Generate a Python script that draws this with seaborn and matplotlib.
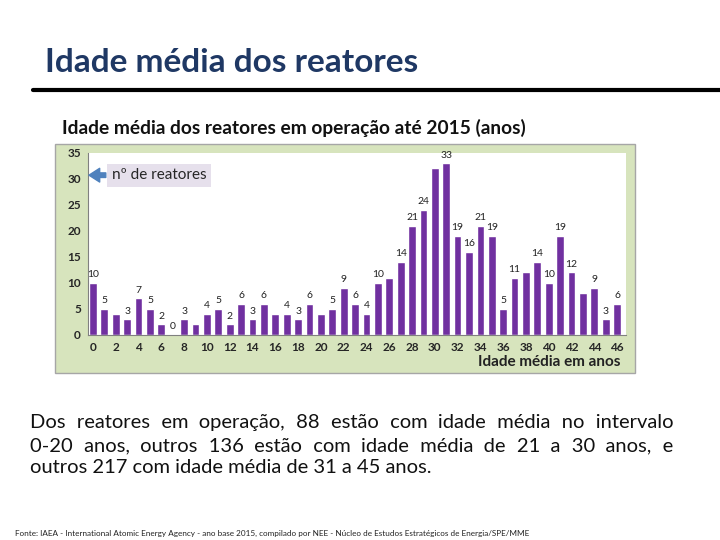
import itertools
import matplotlib
matplotlib.use("Agg")
import matplotlib.pyplot as plt
import seaborn as sns
import pandas as pd
from matplotlib.patches import Rectangle

# idade média (anos) e número de reatores
idades = list(range(0, 47))
reatores = [10, 5, 4, 3, 7, 5, 2, 0, 3, 2, 4, 5, 2, 6, 3, 6, 4, 4, 3, 6, 4,
            5, 9, 6, 4, 10, 11, 14, 21, 24, 32,
            33, 19, 16, 21, 19, 5, 11, 12, 14, 10, 19, 12, 8, 9, 3, 6]
# rótulos que aparecem no gráfico original
rotulados = [0, 1, 3, 4, 5, 6, 7, 8, 10, 11, 12, 13, 14, 15, 17, 18, 19, 21,
             22, 23, 24, 25, 27, 28, 29, 31, 32, 33, 34, 35, 36, 37, 39, 40,
             41, 42, 44, 45, 46]

titulo = "Idade média dos reatores"
titulo_grafico = "Idade média dos reatores em operação até 2015 (anos)"
linhas_texto = [
    "Dos reatores em operação, 88 estão com idade média no intervalo",
    "0-20 anos, outros 136 estão com idade média de 21 a 30 anos, e",
    "outros 217 com idade média de 31 a 45 anos.",
]
fonte = ("Fonte: IAEA - International Atomic Energy Agency - ano base 2015, compilado por "
         "NEE - Núcleo de Estudos Estratégicos de Energia/SPE/MME")

df = pd.DataFrame({"idade": idades, "reatores": reatores})

sns.set_style("white")
plt.rcParams["font.family"] = ["Lato", "DejaVu Sans"]

fig = plt.figure(figsize=(7.2, 5.4), dpi=100)

# fundo verde do gráfico
fig.patches.append(Rectangle((0.0764, 0.309), 0.806, 0.424, transform=fig.transFigure,
                             facecolor="#D7E4BD", edgecolor="#A6A6A6", lw=1, zorder=-5))

fig.text(0.062, 0.885, titulo, fontsize=24, fontweight="bold", color="#1F3864",
         va="center", ha="left")
fig.add_artist(plt.Line2D([0.046, 1.0], [0.834, 0.834], transform=fig.transFigure,
                          color="black", lw=3))
fig.text(0.086, 0.763, titulo_grafico, fontsize=13.8, fontweight="bold",
         color="#111111", va="center", ha="left")

ax = fig.add_axes([0.122, 0.380, 0.747, 0.337])
ax.set_zorder(2)
ax.set_facecolor("white")
sns.barplot(data=df, x="idade", y="reatores", color="#7030A0", saturation=1,
            width=0.68, ax=ax)
ax.set_xlim(-0.45, 46.75)
ax.set_ylim(0, 35)
ax.set_yticks(range(0, 36, 5))
ax.set_xticks(range(0, 47, 2))
ax.set_xticklabels([str(i) for i in range(0, 47, 2)])
ax.tick_params(axis="both", labelsize=8.5, length=3, color="#808080", pad=2)
for lbl in ax.get_xticklabels() + ax.get_yticklabels():
    lbl.set_fontweight("bold")
ax.set_xlabel("")
ax.set_ylabel("")
for s in ["top", "right"]:
    ax.spines[s].set_visible(False)
for s in ["left", "bottom"]:
    ax.spines[s].set_color("#808080")
    ax.spines[s].set_linewidth(0.8)

for i in rotulados:
    ax.text(i, reatores[i] + 0.7, str(reatores[i]), ha="center", va="bottom",
            fontsize=7.5, color="#222222")

ax.annotate("nº de reatores", xy=(-0.35, 30.7), xytext=(1.65, 30.7),
            fontsize=11, va="center", ha="left",
            bbox=dict(boxstyle="square,pad=0.3", fc="#E6E0EC", ec="none"),
            arrowprops=dict(arrowstyle="simple,head_width=0.9,head_length=0.7,tail_width=0.3",
                            color="#4F81BD", shrinkA=1, shrinkB=0))

fig.text(0.862, 0.330, "Idade média em anos", fontsize=11, fontweight="bold",
         ha="right", va="center", color="#222222")

# texto justificado: uma linha = um texto, espaços ajustados
fig.canvas.draw()
renderer = fig.canvas.get_renderer()
tam = 14.5


def largura(s):
    t = fig.text(0, 0, s, fontsize=tam)
    w = t.get_window_extent(renderer).width
    t.remove()
    return w


base = largura("aa")
opcoes = {}
for n in range(1, 5):
    for comb in itertools.combinations_with_replacement([" ", "\u2009", "\u200a"], n):
        s = "".join(comb)
        if " " in s:
            opcoes[s] = largura("a" + s + "a") - base

x0, x1 = 30, 673
ys = [1 - 428 / 540, 1 - 451 / 540, 1 - 473 / 540]
for n, (linha, y) in enumerate(zip(linhas_texto, ys)):
    palavras = linha.split(" ")
    texto = linha
    if n < len(linhas_texto) - 1:
        alvo = (x1 - x0 - sum(largura(p) for p in palavras)) / (len(palavras) - 1)
        texto = palavras[0]
        erro = 0.0
        for p in palavras[1:]:
            desejado = alvo + erro
            esp = min(opcoes, key=lambda k: abs(opcoes[k] - desejado))
            erro = desejado - opcoes[esp]
            texto += esp + p
    fig.text(x0 / 720, y, texto, fontsize=tam, ha="left", va="baseline", color="#111111")

fig.text(0.021, 1 - 533 / 540, fonte, fontsize=5.9, ha="left", va="center",
         color="#222222")

plt.savefig("out.png", dpi=100)
plt.close()
